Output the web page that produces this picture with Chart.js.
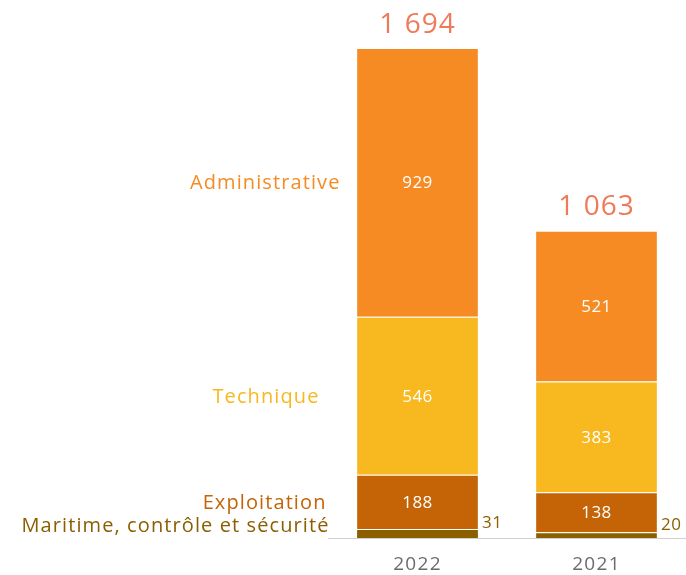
<!DOCTYPE html>
<html>
<head>
<meta charset="utf-8">
<script src="https://cdn.jsdelivr.net/npm/chart.js@4"></script>
<style>
  html, body { margin: 0; padding: 0; background: #fff; }
  #wrap { width: 686px; height: 575px; }
</style>
</head>
<body>
<div id="wrap"><canvas id="chart"></canvas></div>
<script>
// Years shown on the x axis
const years = ['2022', '2021'];

// Series, bottom to top
const seriesNames = ['Maritime, contrôle et sécurité', 'Exploitation', 'Technique', 'Administrative'];
const maritime = [31, 20];
const exploitation = [188, 138];
const technique = [546, 383];
const administrative = [929, 521];
// totals as printed above the bars
const totals = [1694, 1063];

const seriesColors = ['#8b5e00', '#c46406', '#f8b81f', '#f58b22'];
const FONT = '"Open Sans", "Noto Sans", sans-serif';

const fmt = n => String(n).replace(/\B(?=(\d{3})+(?!\d))/g, ' ');

// left-side category labels, shifted a bit from segment middles like the original
const labelShift = [
  { dx: 0, dy: -7 },
  { dx: -3, dy: 1 },
  { dx: -10, dy: 2 },
  { dx: 11, dy: 1 }
];

const spacingPlugin = {
  id: 'spacing',
  beforeDraw(chart) {
    // wider tracking, closer to the original typeface
    chart.ctx.letterSpacing = '1.3px';
  }
};

const labelsPlugin = {
  id: 'labels',
  afterDatasetsDraw(chart) {
    const ctx = chart.ctx;
    const area = chart.chartArea;
    const y = chart.scales.y;
    ctx.save();

    // baseline
    ctx.strokeStyle = '#d0d0d0';
    ctx.lineWidth = 1;
    ctx.beginPath();
    ctx.moveTo(area.left, Math.round(area.bottom) + 0.5);
    ctx.lineTo(area.right, Math.round(area.bottom) + 0.5);
    ctx.stroke();

    ctx.textBaseline = 'middle';
    chart.data.datasets.forEach((ds, di) => {
      const meta = chart.getDatasetMeta(di);
      meta.data.forEach((bar, i) => {
        const v = ds.data[i];
        const mid = (bar.y + bar.base) / 2;
        ctx.letterSpacing = '0.5px';
        if (di === 0) {
          ctx.fillStyle = '#8b5e00';
          ctx.font = '17px ' + FONT;
          ctx.textAlign = 'left';
          ctx.fillText(fmt(v), bar.x + bar.width / 2 + 4, mid - 10);
        } else {
          ctx.fillStyle = '#ffffff';
          ctx.font = '17px ' + FONT;
          ctx.textAlign = 'center';
          ctx.fillText(fmt(v), bar.x, mid + 1);
        }
        // category names beside the first bar
        if (i === 0) {
          ctx.letterSpacing = '1.1px';
          ctx.fillStyle = seriesColors[di];
          ctx.font = '20px ' + FONT;
          ctx.textAlign = 'right';
          ctx.fillText(seriesNames[di], area.left + labelShift[di].dx + 1.5, mid + labelShift[di].dy);
        }
      });
    });

    // totals above the stacks
    const topMeta = chart.getDatasetMeta(chart.data.datasets.length - 1);
    ctx.letterSpacing = '1px';
    ctx.fillStyle = '#ef7a5a';
    ctx.font = '28px ' + FONT;
    ctx.textAlign = 'center';
    topMeta.data.forEach((bar, i) => {
      ctx.fillText(fmt(totals[i]), bar.x, y.getPixelForValue(totals[i]) - 23);
    });
    ctx.restore();
  }
};

new Chart(document.getElementById('chart'), {
  type: 'bar',
  data: {
    labels: years,
    datasets: [maritime, exploitation, technique, administrative].map((d, i) => ({
      label: seriesNames[i],
      data: d,
      backgroundColor: seriesColors[i],
      borderColor: 'rgba(255,255,255,0.45)',
      borderWidth: { top: 1, left: 0, right: 0, bottom: 0 },
      borderSkipped: false,
      barPercentage: 1,
      categoryPercentage: 0.675
    }))
  },
  options: {
    responsive: true,
    maintainAspectRatio: false,
    animation: false,
    layout: { padding: { left: 328, right: 0, top: 48, bottom: -16 } },
    plugins: {
      legend: { display: false },
      tooltip: { enabled: false }
    },
    scales: {
      x: {
        stacked: true,
        grid: { display: false, drawTicks: false },
        border: { display: false },
        ticks: { color: '#6b6b6b', font: { family: FONT, size: 19, lineHeight: 1 }, padding: 17 }
      },
      y: {
        stacked: true,
        display: false,
        min: 0,
        max: 1694
      }
    }
  },
  plugins: [spacingPlugin, labelsPlugin]
});
</script>
</body>
</html>
